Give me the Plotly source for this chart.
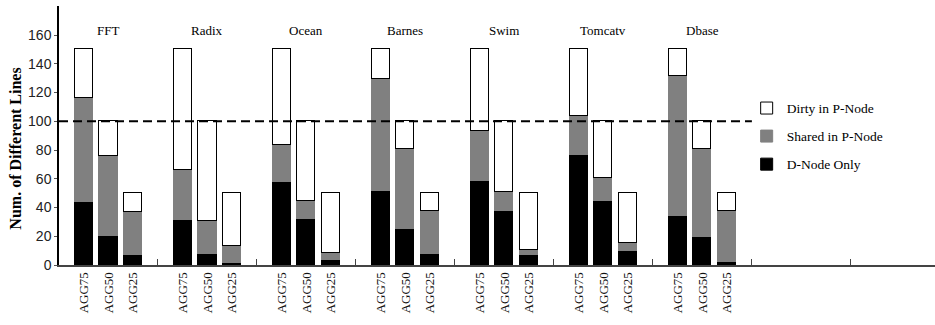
import plotly.graph_objects as go

benchmarks = ["FFT", "Radix", "Ocean", "Barnes", "Swim", "Tomcatv", "Dbase"]
configs = ["AGG75", "AGG50", "AGG25"]
totals = [150, 100, 50]

# cumulative tops per benchmark, per config (AGG75, AGG50, AGG25)
dnode_only = [
    [44, 20, 7],
    [31, 8, 1.5],
    [58, 32, 3.5],
    [51.5, 25, 7.7],
    [58.4, 37.6, 7],
    [76.5, 44.5, 9.7],
    [34, 19.5, 2],
]
shared_top = [
    [116, 76, 37],
    [66, 30.6, 13],
    [83.5, 44.3, 8.1],
    [129.2, 81, 37.6],
    [93.2, 51, 10.4],
    [103.7, 60.5, 15.5],
    [131.5, 80.7, 37.3],
]
baseline = 100
n_slots_axis = 35.4

xs, d_vals, s_vals, w_vals, ticktext = [], [], [], [], []
for g, b in enumerate(benchmarks):
    for k, c in enumerate(configs):
        xs.append(4 * g + k + 1)
        d_vals.append(dnode_only[g][k])
        s_vals.append(shared_top[g][k] - dnode_only[g][k])
        w_vals.append(totals[k] - shared_top[g][k])
        ticktext.append(c)

serif = "Liberation Serif, Times New Roman, serif"
fig = go.Figure()
fig.add_trace(go.Bar(x=xs, y=d_vals, name="D-Node Only", marker=dict(color="#000000", line=dict(color="#000000", width=1)),
                     width=0.73, legendgroup="a", legendrank=3))
fig.add_trace(go.Bar(x=xs, y=s_vals, name="Shared in P-Node", marker=dict(color="#808080", line=dict(color="#808080", width=1)),
                     width=0.73, legendgroup="b", legendrank=2))
fig.add_trace(go.Bar(x=xs, y=w_vals, name="Dirty in P-Node", marker=dict(color="#ffffff", line=dict(color="#000000", width=1)),
                     width=0.73, legendgroup="c", legendrank=1))
fig.add_trace(go.Scatter(x=[0, 4 * len(benchmarks)], y=[baseline, baseline], mode="lines",
                         line=dict(color="#000000", width=2, dash="9px,5px"), showlegend=False, hoverinfo="skip"))

for g, b in enumerate(benchmarks):
    fig.add_annotation(x=4 * g + 2, y=163, xref="x", yref="y", text=b, showarrow=False,
                       font=dict(family=serif, size=13, color="#000"), yanchor="middle")

fig.add_annotation(x=-0.05, y=0.45, xref="paper", yref="paper", text="<b>Num. of Different Lines</b>",
                   textangle=-90, showarrow=False, font=dict(family=serif, size=16, color="#000"),
                   xanchor="center", yanchor="middle")

fig.update_layout(
    width=935, height=325, barmode="stack", bargap=0,
    margin=dict(l=59, r=0, t=6, b=60, autoexpand=False),
    plot_bgcolor="white", paper_bgcolor="white",
    showlegend=True,
    legend=dict(x=0.785, y=0.665, xanchor="left", yanchor="top", traceorder="grouped",
                tracegroupgap=7.5, font=dict(family=serif, size=13.5, color="#000"),
                bgcolor="rgba(0,0,0,0)", itemwidth=30),
    xaxis=dict(range=[0, n_slots_axis], tickvals=xs, ticktext=ticktext, tickangle=-90, automargin=False,
               ticks="", showline=True, linecolor="#444", linewidth=2, showgrid=False, zeroline=False,
               tickfont=dict(family=serif, size=13, color="#111"),
               minor=dict(tickvals=[4 * (g + 1) for g in range(8)], ticks="inside", ticklen=6,
                          tickcolor="#444", tickwidth=1, showgrid=False)),
    yaxis=dict(range=[0, 180.2], tickvals=list(range(0, 161, 20)), ticks="outside", ticklen=3, automargin=False,
               tickcolor="#555", showline=True, linecolor="#000", linewidth=1.5, showgrid=False,
               zeroline=False, tickfont=dict(family="Liberation Sans, Arial, sans-serif", size=14, color="#222")),
)
fig.write_html("out.html", config={"displayModeBar": False},
               post_script="document.body.style.margin='0';document.body.style.overflow='hidden';")
